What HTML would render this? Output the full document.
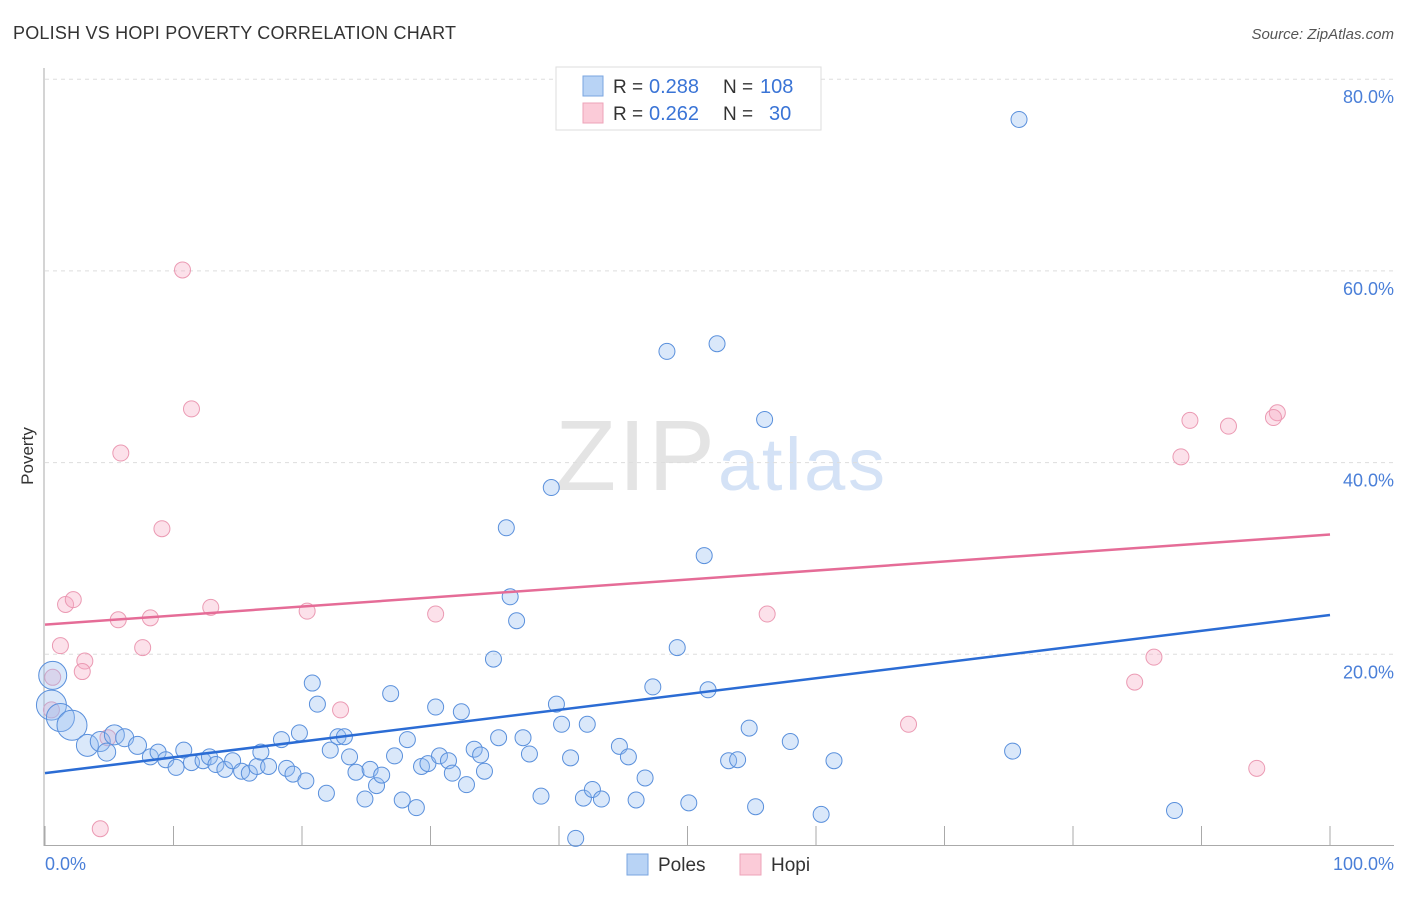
<!DOCTYPE html>
<html><head><meta charset="utf-8"><style>
body{margin:0;background:#fff;font-family:"Liberation Sans",sans-serif;}
svg text{font-family:"Liberation Sans",sans-serif;}
</style></head><body>
<svg id="chart" width="1406" height="892">
<text x="13" y="39" font-size="18" fill="#333" textLength="443">POLISH VS HOPI POVERTY CORRELATION CHART</text>
<text x="1394" y="39" font-size="15" fill="#555" font-style="italic" text-anchor="end">Source: ZipAtlas.com</text>
<text x="555" y="490" font-size="100" fill="#e4e4e4" font-family="Liberation Serif" textLength="160">ZIP</text>
<text x="718" y="490" font-size="74" fill="#d4e2f6" textLength="167">atlas</text>
<g id="grid"></g><g id="axes"></g><g id="pts"></g><g id="lines"></g>
<text transform="translate(33,456) rotate(-90)" font-size="17" fill="#333" text-anchor="middle">Poverty</text>
<text x="45" y="870" font-size="18" fill="#4a7fd8">0.0%</text>
<text x="1394" y="870" font-size="18" fill="#4a7fd8" text-anchor="end">100.0%</text>
<g>
<rect x="556" y="67" width="265" height="63" fill="#fff" stroke="#ddd"/>
<rect x="583" y="76" width="20" height="20" fill="#b8d3f5" stroke="#7aa6e0"/>
<rect x="583" y="103" width="20" height="20" fill="#fbcbd8" stroke="#eea3b8"/>
<text x="613" y="93" font-size="19" fill="#333">R =</text>
<text x="649" y="93" font-size="20" fill="#3a74d6">0.288</text>
<text x="723" y="93" font-size="19" fill="#333">N =</text>
<text x="760" y="93" font-size="20" fill="#3a74d6">108</text>
<text x="613" y="120" font-size="19" fill="#333">R =</text>
<text x="649" y="120" font-size="20" fill="#3a74d6">0.262</text>
<text x="723" y="120" font-size="19" fill="#333">N =</text>
<text x="769" y="120" font-size="20" fill="#3a74d6">30</text>
</g>
<g>
<rect x="627" y="854" width="21" height="21" fill="#b8d3f5" stroke="#7aa6e0"/>
<text x="658" y="871" font-size="19" fill="#333">Poles</text>
<rect x="740" y="854" width="21" height="21" fill="#fbcbd8" stroke="#eea3b8"/>
<text x="771" y="871" font-size="19" fill="#333">Hopi</text>
</g>
</svg>
<script>
const yTicks=[20,40,60,80];
const yTickLabels=["20.0%","40.0%","60.0%","80.0%"];
const xTicks=[0,10,20,30,40,50,60,70,80,90,100];
const polesX=[75.8,48.4,52.3,56.0,39.4,35.9,51.3,36.2,36.7,49.2,34.9,20.8,47.3,51.6,26.9,21.2,39.8,30.4,32.4,0.6,0.5,1.2,2.1,3.3,4.3,5.4,6.2,7.2,4.8,8.2,8.8,9.4,10.2,10.8,11.4,12.3,12.8,13.3,14.0,14.6,15.3,15.9,16.5,16.8,17.4,18.4,18.8,19.3,19.8,20.3,21.9,22.2,22.8,23.3,23.7,24.2,24.9,25.3,25.8,26.2,27.2,27.8,28.2,28.9,29.3,29.8,30.7,31.4,31.7,32.8,33.4,33.9,34.2,35.3,37.2,37.7,38.6,40.2,40.9,41.3,42.2,41.9,42.6,43.3,44.7,45.4,46.0,46.7,50.1,53.2,53.9,54.8,55.3,58.0,60.4,61.4,75.3,87.9];
const polesY=[75.8,51.6,52.4,44.5,37.4,33.2,30.3,26.0,23.5,20.7,19.5,17.0,16.6,16.3,15.9,14.8,14.8,14.5,14.0,17.8,14.7,13.4,12.6,10.5,10.9,11.6,11.3,10.5,9.8,9.3,9.8,9.0,8.2,10.0,8.7,8.9,9.3,8.5,8.0,8.9,7.8,7.6,8.3,9.8,8.3,11.1,8.1,7.5,11.8,6.8,5.5,10.0,11.4,11.4,9.3,7.7,4.9,8.0,6.3,7.4,9.4,4.8,11.1,4.0,8.3,8.6,9.4,8.9,7.6,6.4,10.1,9.5,7.8,11.3,11.3,9.6,5.2,12.7,9.2,0.8,12.7,5.0,5.9,4.9,10.4,9.3,4.8,7.1,4.5,8.9,9.0,12.3,4.1,10.9,3.3,8.9,9.9,3.7];
const polesSize=[8,8,8,8,8,8,8,8,8,8,8,8,8,8,8,8,8,8,8,14,15,14,15,11,10,10,9,9,9,8,8,8,8,8,8,8,8,8,8,8,8,8,8,8,8,8,8,8,8,8,8,8,8,8,8,8,8,8,8,8,8,8,8,8,8,8,8,8,8,8,8,8,8,8,8,8,8,8,8,8,8,8,8,8,8,8,8,8,8,8,8,8,8,8,8,8,8,8];
const hopiX=[10.7,11.4,5.9,9.1,1.6,2.2,5.7,8.2,12.9,20.4,30.4,56.2,1.2,3.1,2.9,7.6,0.6,0.5,23.0,4.3,89.1,92.1,95.9,95.6,88.4,67.2,86.3,84.8,94.3,4.9];
const hopiY=[60.1,45.6,41.0,33.1,25.2,25.7,23.6,23.8,24.9,24.5,24.2,24.2,20.9,19.3,18.2,20.7,17.6,14.2,14.2,1.8,44.4,43.8,45.2,44.7,40.6,12.7,19.7,17.1,8.1,11.3];
const polesLine=[7.6,24.1];
const hopiLine=[23.1,32.5];
const NS="http://www.w3.org/2000/svg";
const X0=45,X1=1330,YB=846,PY=9.585;
const sx=v=>X0+(X1-X0)*v/100, sy=v=>YB-v*PY;
function mk(t,a,p){const e=document.createElementNS(NS,t);for(const k in a)e.setAttribute(k,a[k]);document.getElementById(p).appendChild(e);return e;}
yTicks.forEach((v,i)=>{
 const l=mk('line',{x1:45,x2:1394,y1:sy(v),y2:sy(v),stroke:'#ddd','stroke-dasharray':'4,4'},'grid');
 
 
 const t=mk('text',{x:1394,y:sy(v)+24,'font-size':18,fill:'#4a7fd8','text-anchor':'end'},'grid');
 t.textContent=yTickLabels[i];
 
 
});
mk('line',{x1:44,x2:44,y1:68,y2:846,stroke:'#aaa'},'axes');
mk('line',{x1:44,x2:1394,y1:845.5,y2:845.5,stroke:'#aaa'},'axes');
xTicks.forEach(v=>{
 const l=mk('line',{x1:sx(v),x2:sx(v),y1:826,y2:846,stroke:'#aaa'},'axes');
 
 
});
hopiX.forEach((x,i)=>{
 const c=mk('circle',{cx:sx(x),cy:sy(hopiY[i]),r:8,fill:'rgba(247,170,195,0.35)',stroke:'#eb9ab3','stroke-width':1},'pts');
 
 
});
polesX.forEach((x,i)=>{
 const c=mk('circle',{cx:sx(x),cy:sy(polesY[i]),r:polesSize[i],fill:'rgba(150,190,240,0.35)',stroke:'#5a90dc','stroke-width':1},'pts');
 
 
});
const pl=mk('line',{x1:sx(0),x2:sx(100),y1:sy(polesLine[0]),y2:sy(polesLine[1]),stroke:'#2b6cd4','stroke-width':2.5},'lines');


const hl=mk('line',{x1:sx(0),x2:sx(100),y1:sy(hopiLine[0]),y2:sy(hopiLine[1]),stroke:'#e56c97','stroke-width':2.5},'lines');


</script>
</body></html>
